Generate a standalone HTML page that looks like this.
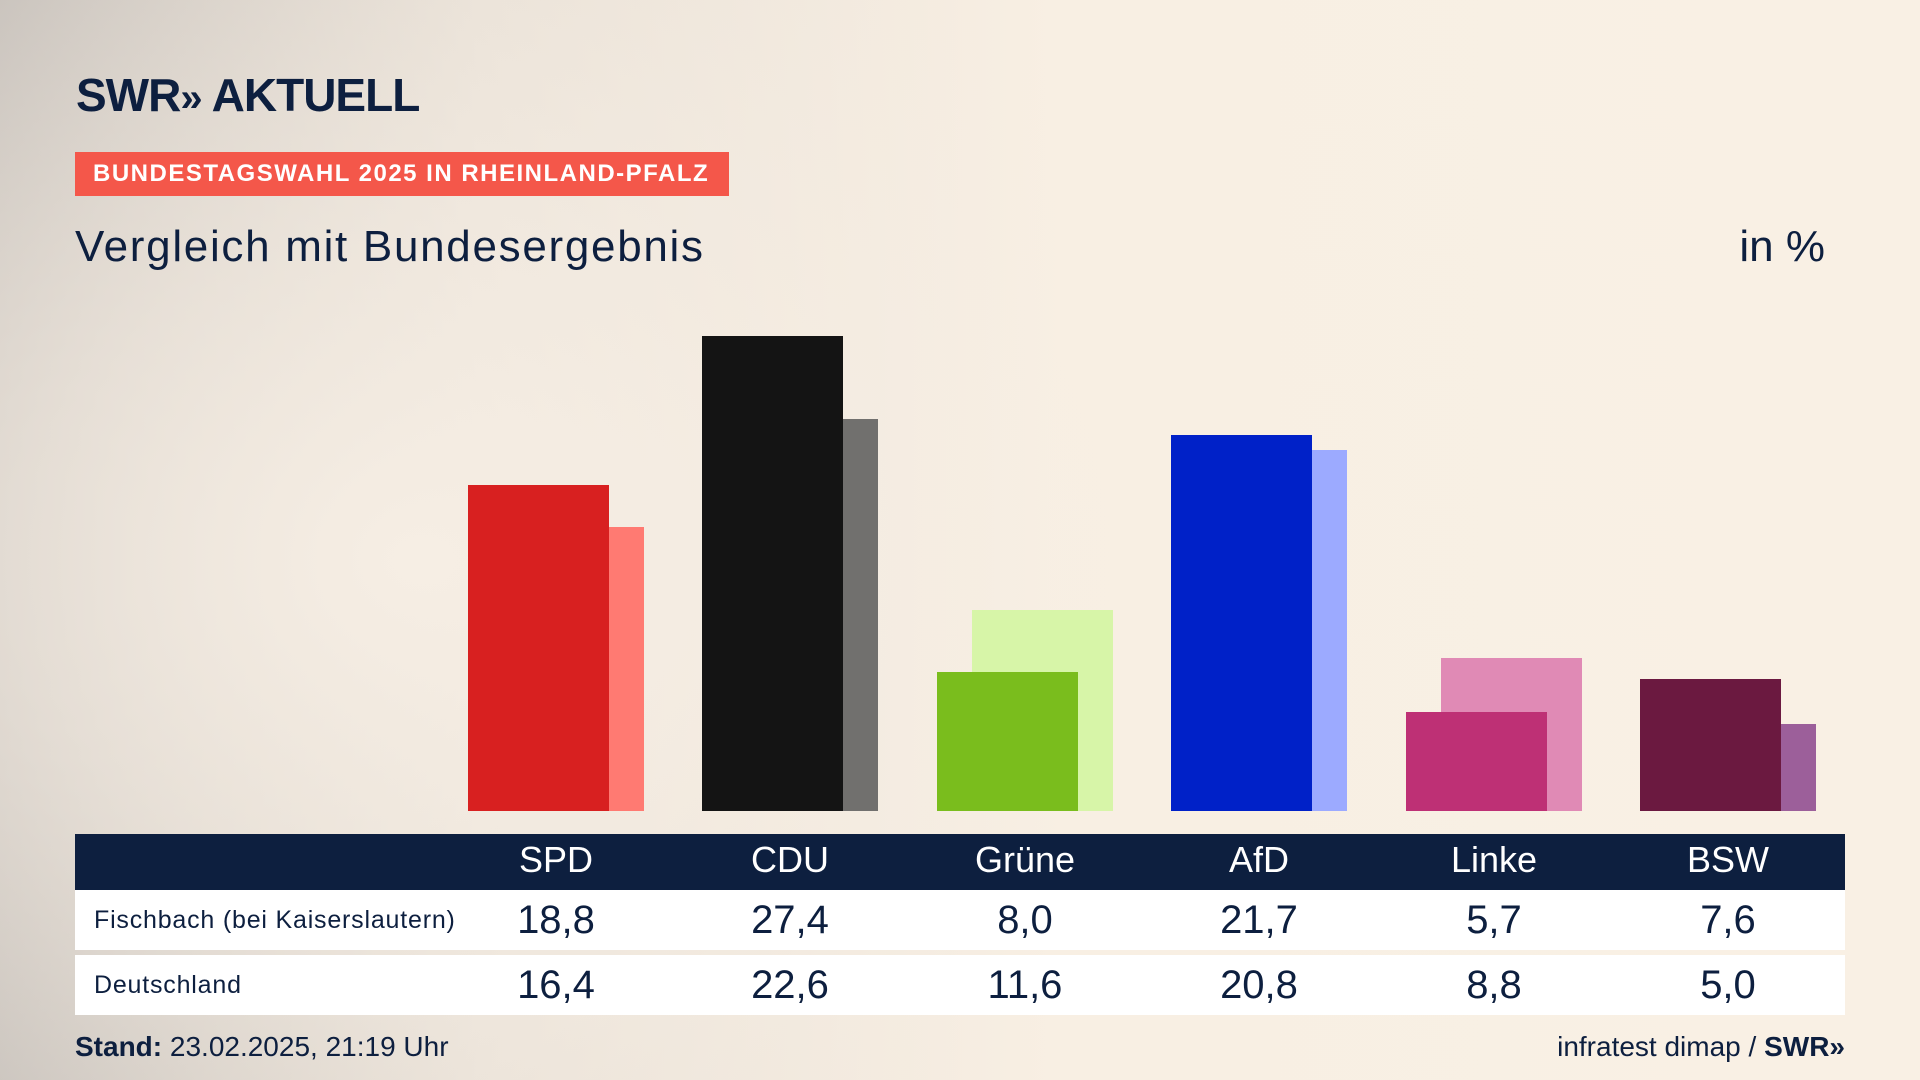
<!DOCTYPE html>
<html><head><meta charset="utf-8"><style>
*{margin:0;padding:0;box-sizing:border-box}
body{width:1920px;height:1080px;overflow:hidden;font-family:"Liberation Sans",sans-serif;color:#0d1f3f;
background:radial-gradient(ellipse 900px 700px at 420px 560px,rgba(246,238,228,1) 0%,rgba(246,238,228,0.6) 45%,rgba(200,192,184,0) 100%),
linear-gradient(90deg,#c7c1bb 0%,#e9e1d7 25%,#f8efe3 55%,#f9f0e4 100%);position:relative}
.abs{position:absolute}
.bar{position:absolute;bottom:269px;width:141px}
.hd{position:absolute;top:834px;left:75px;width:1770px;height:56px;background:#0d1f3f}
.row{position:absolute;left:75px;width:1770px;height:60px;background:#fff}
.lab{position:absolute;width:200px;text-align:center;transform:translateX(-100px)}
</style></head><body>
<div class="abs" style="left:76px;top:68px;font-size:46px;font-weight:bold;letter-spacing:-1px;color:#0d1f3f">SWR<span style="font-size:40px">»</span> AKTUELL</div>
<div class="abs" style="left:75px;top:152px;width:654px;height:44px;background:#f4574a;color:#fff;font-weight:bold;font-size:24px;line-height:44px;padding-left:18px;letter-spacing:1.5px">BUNDESTAGSWAHL 2025 IN RHEINLAND-PFALZ</div>
<div class="abs" style="left:75px;top:222px;font-size:44px;letter-spacing:1.7px">Vergleich mit Bundesergebnis</div>
<div class="abs" style="right:95px;top:222px;font-size:44px">in %</div>

<div class="bar" style="left:503px;height:284px;background:#ff7a72"></div>
<div class="bar" style="left:468px;height:326px;background:#d82020"></div>
<div class="bar" style="left:737px;height:392px;background:#71706e"></div>
<div class="bar" style="left:702px;height:475px;background:#141414"></div>
<div class="bar" style="left:972px;height:201px;background:#d7f5a8"></div>
<div class="bar" style="left:937px;height:139px;background:#7abd1d"></div>
<div class="bar" style="left:1206px;height:361px;background:#9caaff"></div>
<div class="bar" style="left:1171px;height:376px;background:#0021c8"></div>
<div class="bar" style="left:1441px;height:153px;background:#e08ab5"></div>
<div class="bar" style="left:1406px;height:99px;background:#be3075"></div>
<div class="bar" style="left:1675px;height:87px;background:#9c5f9a"></div>
<div class="bar" style="left:1640px;height:132px;background:#6b1940"></div>

<div class="hd"></div>
<div class="row" style="top:890px"></div>
<div class="row" style="top:955px"></div>
<div class="abs" style="left:0;top:840px;width:1920px;height:40px;font-size:36px;color:#fff;line-height:40px">
<span class="lab" style="left:556px">SPD</span><span class="lab" style="left:790px">CDU</span><span class="lab" style="left:1025px">Grüne</span><span class="lab" style="left:1259px">AfD</span><span class="lab" style="left:1494px">Linke</span><span class="lab" style="left:1728px">BSW</span></div>
<div class="abs" style="left:94px;top:906px;font-size:25px;letter-spacing:0.8px">Fischbach (bei Kaiserslautern)</div>
<div class="abs" style="left:0;top:897px;width:1920px;font-size:40px;line-height:46px">
<span class="lab" style="left:556px">18,8</span><span class="lab" style="left:790px">27,4</span><span class="lab" style="left:1025px">8,0</span><span class="lab" style="left:1259px">21,7</span><span class="lab" style="left:1494px">5,7</span><span class="lab" style="left:1728px">7,6</span></div>
<div class="abs" style="left:94px;top:971px;font-size:25px;letter-spacing:0.8px">Deutschland</div>
<div class="abs" style="left:0;top:962px;width:1920px;font-size:40px;line-height:46px">
<span class="lab" style="left:556px">16,4</span><span class="lab" style="left:790px">22,6</span><span class="lab" style="left:1025px">11,6</span><span class="lab" style="left:1259px">20,8</span><span class="lab" style="left:1494px">8,8</span><span class="lab" style="left:1728px">5,0</span></div>
<div class="abs" style="left:75px;top:1031px;font-size:28px"><b>Stand:</b> 23.02.2025, 21:19 Uhr</div>
<div class="abs" style="right:75px;top:1031px;font-size:28px">infratest dimap / <b>SWR»</b></div>
</body></html>
